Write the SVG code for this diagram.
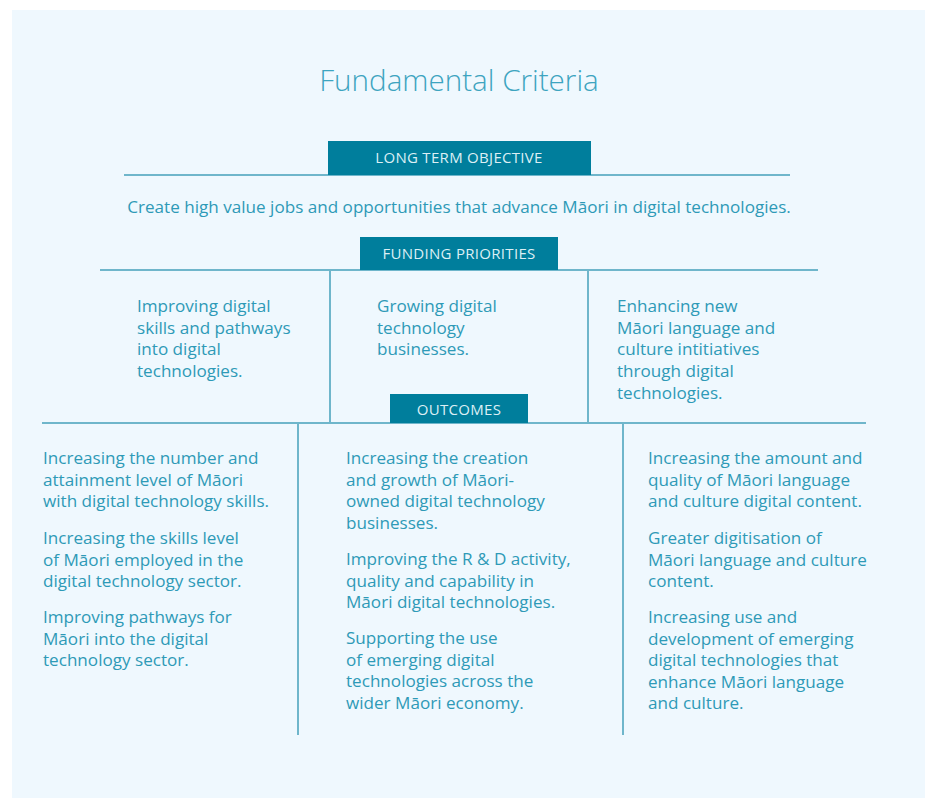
<svg xmlns="http://www.w3.org/2000/svg" width="931" height="798" viewBox="0 0 931 798">
<style>
.bg{fill:#eff8fe}
.ln{stroke:#6fb6cb;stroke-width:2;fill:none}
.lbl{fill:#007e9c}
.lt{font-family:"Open Sans","Liberation Sans",sans-serif;font-size:15px;letter-spacing:0.3px;fill:#dceff5;text-anchor:middle}
.tx{font-family:"Open Sans","Liberation Sans",sans-serif;font-size:17.1px;fill:#2e9ab7}
.ttl{font-family:"Open Sans","Liberation Sans",sans-serif;font-size:29.6px;font-weight:300;fill:#3da4c0;text-anchor:middle}
</style>
<rect class="bg" x="12" y="10" width="913" height="788"/>
<text class="ttl" x="459" y="91">Fundamental Criteria</text>
<g id="connectors">
<line class="ln" x1="124" y1="175" x2="790" y2="175"/>
<line class="ln" x1="100" y1="270" x2="818" y2="270"/>
<line class="ln" x1="330" y1="270" x2="330" y2="423"/>
<line class="ln" x1="588" y1="270" x2="588" y2="423"/>
<line class="ln" x1="42" y1="423" x2="866" y2="423"/>
<line class="ln" x1="298" y1="423" x2="298" y2="735"/>
<line class="ln" x1="623" y1="423" x2="623" y2="735"/>
</g>
<g id="long-term-objective">
<rect class="lbl" x="328" y="141" width="263" height="34"/>
<text class="lt" x="459" y="163">LONG TERM OBJECTIVE</text>
</g>
<g id="objective-text">
<text class="tx" x="459" y="213" text-anchor="middle">Create high value jobs and opportunities that advance Māori in digital technologies.</text>
</g>
<g id="funding-priorities">
<rect class="lbl" x="360" y="237" width="198" height="33"/>
<text class="lt" x="459" y="259">FUNDING PRIORITIES</text>
</g>
<g id="priority-1">
<text class="tx" x="137" y="312">Improving digital</text>
<text class="tx" x="137" y="333.5">skills and pathways</text>
<text class="tx" x="137" y="355">into digital</text>
<text class="tx" x="137" y="376.5">technologies.</text>
</g>
<g id="priority-2">
<text class="tx" x="377" y="312">Growing digital</text>
<text class="tx" x="377" y="333.5">technology</text>
<text class="tx" x="377" y="355">businesses.</text>
</g>
<g id="priority-3">
<text class="tx" x="617" y="312">Enhancing new</text>
<text class="tx" x="617" y="333.5">Māori language and</text>
<text class="tx" x="617" y="355">culture intitiatives</text>
<text class="tx" x="617" y="376.5">through digital</text>
<text class="tx" x="617" y="399">technologies.</text>
</g>
<g id="outcomes">
<rect class="lbl" x="390" y="394" width="138" height="29"/>
<text class="lt" x="459" y="415">OUTCOMES</text>
</g>
<g id="outcomes-1">
<text class="tx" x="43" y="464">Increasing the number and</text>
<text class="tx" x="43" y="485.5">attainment level of Māori</text>
<text class="tx" x="43" y="507">with digital technology skills.</text>
<text class="tx" x="43" y="544">Increasing the skills level</text>
<text class="tx" x="43" y="565.5">of Māori employed in the</text>
<text class="tx" x="43" y="587">digital technology sector.</text>
<text class="tx" x="43" y="623">Improving pathways for</text>
<text class="tx" x="43" y="644.5">Māori into the digital</text>
<text class="tx" x="43" y="666">technology sector.</text>
</g>
<g id="outcomes-2">
<text class="tx" x="346" y="464">Increasing the creation</text>
<text class="tx" x="346" y="485.5">and growth of Māori-</text>
<text class="tx" x="346" y="507">owned digital technology</text>
<text class="tx" x="346" y="528.5">businesses.</text>
<text class="tx" x="346" y="565">Improving the R &amp; D activity,</text>
<text class="tx" x="346" y="586.5">quality and capability in</text>
<text class="tx" x="346" y="608">Māori digital technologies.</text>
<text class="tx" x="346" y="644">Supporting the use</text>
<text class="tx" x="346" y="665.5">of emerging digital</text>
<text class="tx" x="346" y="687">technologies across the</text>
<text class="tx" x="346" y="708.5">wider Māori economy.</text>
</g>
<g id="outcomes-3">
<text class="tx" x="648" y="464">Increasing the amount and</text>
<text class="tx" x="648" y="485.5">quality of Māori language</text>
<text class="tx" x="648" y="507">and culture digital content.</text>
<text class="tx" x="648" y="544">Greater digitisation of</text>
<text class="tx" x="648" y="565.5">Māori language and culture</text>
<text class="tx" x="648" y="587">content.</text>
<text class="tx" x="648" y="623">Increasing use and</text>
<text class="tx" x="648" y="644.5">development of emerging</text>
<text class="tx" x="648" y="666">digital technologies that</text>
<text class="tx" x="648" y="687.5">enhance Māori language</text>
<text class="tx" x="648" y="709">and culture.</text>
</g>
</svg>
